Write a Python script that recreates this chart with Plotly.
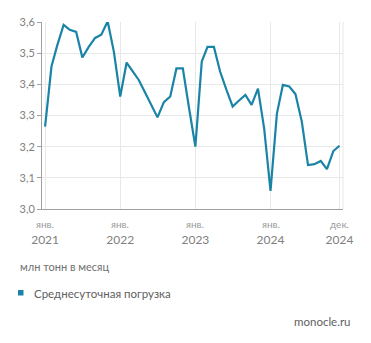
import plotly.graph_objects as go
import pandas as pd

months = pd.date_range("2021-01-01", "2024-12-01", freq="MS")
loading = [
    3.264, 3.457, 3.525, 3.591, 3.575, 3.568, 3.486, 3.520, 3.549, 3.559, 3.602, 3.505,
    3.361, 3.470, 3.443, 3.414, 3.375, 3.334, 3.294, 3.343, 3.361, 3.451, 3.451, 3.325,
    3.200, 3.473, 3.520, 3.520, 3.441, 3.382, 3.329, 3.348, 3.366, 3.334, 3.386, 3.259,
    3.058, 3.306, 3.398, 3.393, 3.369, 3.280, 3.141, 3.144, 3.154, 3.128, 3.186, 3.203,
]
tick_dates = ["2021-01-01", "2022-01-01", "2023-01-01", "2024-01-01", "2024-12-01"]
tick_month = ["янв.", "янв.", "янв.", "янв.", "дек."]
tick_year = ["2021", "2022", "2023", "2024", "2024"]
y_ticks = [3.0, 3.1, 3.2, 3.3, 3.4, 3.5, 3.6]
series_name = "Среднесуточная погрузка"
unit_label = "млн тонн в месяц"
source = "monocle.ru"

color = "#1a84a6"
font = "Lato"

# plot area: x 42..343, y 22..209 (pixels)
H = 187.0
W = 301.0


def py(p):
    return (209 - p) / H


def px(p):
    return (p - 42) / W


fig = go.Figure()
fig.add_trace(go.Scatter(x=months, y=loading, mode="lines",
                         line=dict(color=color, width=2.2), name=series_name,
                         showlegend=False))

annotations = [
    dict(text=m, x=d, xref="x", yref="paper", y=py(224), xanchor="center",
         yanchor="middle", showarrow=False, font=dict(size=10, color="#9a9a9a"))
    for d, m in zip(tick_dates, tick_month)
]
annotations += [
    dict(text=unit_label, xref="paper", yref="paper",
         x=px(18), y=py(266), xanchor="left", yanchor="middle",
         showarrow=False, font=dict(size=11, color="#707070")),
    dict(text=series_name, xref="paper", yref="paper",
         x=px(32), y=py(293), xanchor="left", yanchor="middle",
         showarrow=False, font=dict(size=11.5, color="#606060")),
    dict(text=source, xref="paper", yref="paper",
         x=px(353), y=py(321), xanchor="right", yanchor="middle",
         showarrow=False, font=dict(size=11.5, color="#606060")),
]

fig.update_layout(
    width=371, height=343,
    margin=dict(l=42, r=28, t=22, b=134),
    paper_bgcolor="white", plot_bgcolor="white",
    separators=", ",
    font=dict(family=font, color="#808080", size=11),
    xaxis=dict(
        range=["2020-12-17", "2024-12-18"],
        tickvals=tick_dates, ticktext=tick_year,
        showgrid=True, gridcolor="#e8e8e8", gridwidth=1,
        showline=True, linecolor="#a0a0a0", linewidth=1,
        ticks="", tickfont=dict(size=12, color="#808080"),
        ticklabelstandoff=20,
        zeroline=False,
    ),
    yaxis=dict(
        range=[3.0, 3.6], tickvals=y_ticks, tickformat=".1f",
        showgrid=True, gridcolor="#e8e8e8", gridwidth=1,
        showline=True, linecolor="#a0a0a0", linewidth=1,
        ticks="outside", ticklen=4, tickcolor="#a0a0a0",
        tickfont=dict(size=11, color="#808080"),
        zeroline=False,
    ),
    shapes=[
        dict(type="line", xref="paper", yref="paper", x0=1, x1=1, y0=0, y1=1,
             line=dict(color="#e8e8e8", width=1)),
        dict(type="rect", xref="paper", yref="paper",
             x0=px(18), x1=px(23.5), y0=py(295.5), y1=py(290),
             fillcolor=color, line=dict(width=0)),
    ],
    annotations=annotations,
)

fig.write_html("out.html")
